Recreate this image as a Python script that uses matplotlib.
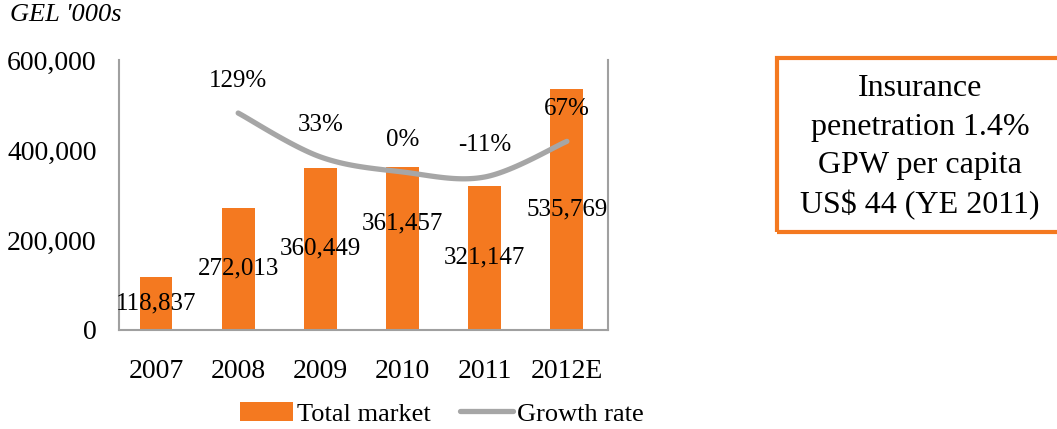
import numpy as np
import matplotlib
matplotlib.use("Agg")
import matplotlib.pyplot as plt
from matplotlib.patches import Rectangle

plt.rcParams['font.family'] = ['Liberation Serif', 'DejaVu Serif']

years = ['2007', '2008', '2009', '2010', '2011', '2012E']
total_market = [118837, 272013, 360449, 361457, 321147, 535769]
growth = [None, 129, 33, 0, -11, 67]
box_lines = ['Insurance', 'penetration 1.4%', 'GPW per capita', 'US$ 44 (YE 2011)']

ORANGE = '#F47920'
GREY = '#A6A6A6'


def smooth(xs, ys, n=30):
    # excel-style smoothed line (bezier through the points)
    xs = np.asarray(xs, float)
    ys = np.asarray(ys, float)
    px, py = [], []
    for i in range(len(xs) - 1):
        x0, y0 = xs[max(i - 1, 0)], ys[max(i - 1, 0)]
        x1, y1 = xs[i], ys[i]
        x2, y2 = xs[i + 1], ys[i + 1]
        x3, y3 = xs[min(i + 2, len(xs) - 1)], ys[min(i + 2, len(xs) - 1)]
        c1 = (x1 + (x2 - x0) / 6, y1 + (y2 - y0) / 6)
        c2 = (x2 - (x3 - x1) / 6, y2 - (y3 - y1) / 6)
        t = np.linspace(0, 1, n)
        px.extend((1-t)**3*x1 + 3*(1-t)**2*t*c1[0] + 3*(1-t)*t**2*c2[0] + t**3*x2)
        py.extend((1-t)**3*y1 + 3*(1-t)**2*t*c1[1] + 3*(1-t)*t**2*c2[1] + t**3*y2)
    return px, py


fig = plt.figure(figsize=(10.57, 4.29), dpi=100)
ax = fig.add_axes([0.1126, 0.2308, 0.4626, 0.6292])
x = np.arange(len(years))

bars = ax.bar(x, total_market, width=0.4, color=ORANGE, label='Total market', zorder=2)
ax.set_ylim(0, 600000)
ax.set_xlim(-0.45, 5.5)
ax.set_yticks([0, 200000, 400000, 600000])
ax.yaxis.set_major_formatter(matplotlib.ticker.FuncFormatter(lambda v, p: f'{int(v):,}'))
ax.set_xticks(x)
ax.set_xticklabels(years)
ax.tick_params(axis='both', length=0, labelsize=20)
ax.tick_params(axis='x', pad=21)
ax.tick_params(axis='y', pad=16)
for s in ['left', 'right', 'bottom']:
    ax.spines[s].set_color('#A0A0A0')
    ax.spines[s].set_linewidth(1.5)
ax.spines['top'].set_visible(False)

# bar value labels (2010 pushed up so it does not clash)
label_shift = [0, 0, 0, 55000, 0, 0]
for i, v in enumerate(total_market):
    ax.text(i, v / 2 + label_shift[i], f'{v:,}', ha='center', va='center',
            fontsize=18, zorder=5)

ax2 = ax.twinx()
ax2.set_ylim(-346, 245)
ax2.axis('off')
gx = [i for i, g in enumerate(growth) if g is not None]
gy = [g for g in growth if g is not None]
sx, sy = smooth(gx, gy)
line, = ax2.plot(sx, sy, color=GREY, lw=3.8, solid_capstyle='round', label='Growth rate', zorder=3)
for i, g in zip(gx, gy):
    ax2.annotate(f'{g}%', (i, g), xytext=(0, 23), textcoords='offset points',
                 ha='center', va='center', fontsize=18)

fig.text(0.009, 0.965, "GEL '000s", style='italic', fontsize=19, va='center', ha='left')

# legend
leg = fig.legend(handles=[bars, line], loc='center', bbox_to_anchor=(0.418, 0.035),
                 ncol=2, frameon=False, fontsize=19, handlelength=2.0,
                 handletextpad=0.15, columnspacing=1.1)

# orange info box
fig.patches.append(Rectangle((777 / 1057, 1 - 232 / 429), 300 / 1057, 174 / 429,
                             transform=fig.transFigure, fill=False,
                             edgecolor=ORANGE, lw=3))
for k, t in enumerate(box_lines):
    fig.text(920 / 1057, 1 - (88 + 39 * k) / 429, t, ha='center', va='center', fontsize=23)

fig.savefig('out.png', dpi=100)
